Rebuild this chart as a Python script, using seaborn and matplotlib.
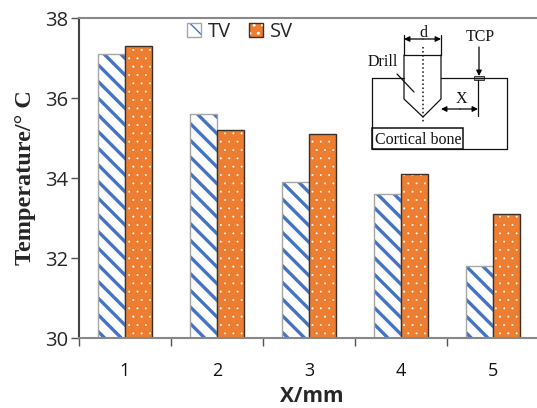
import numpy as np
import pandas as pd
import matplotlib
matplotlib.use("Agg")
import matplotlib.pyplot as plt
from matplotlib.legend_handler import HandlerTuple
from matplotlib.patches import Patch, Rectangle
import seaborn as sns

# data
x_labels = ["1", "2", "3", "4", "5"]
tv = [37.1, 35.6, 33.9, 33.6, 31.8]
sv = [37.3, 35.2, 35.1, 34.1, 33.1]
series = ["TV", "SV"]
y_ticks = [30, 32, 34, 36, 38]

df = pd.DataFrame({
    "x": x_labels * 2,
    "temp": tv + sv,
    "kind": ["TV"] * 5 + ["SV"] * 5,
})
# one column per hatch pass, the other series left empty so the dodge stays
df["tv_only"] = df["temp"].where(df["kind"] == "TV")
df["sv_only"] = df["temp"].where(df["kind"] == "SV")

sns.set_style("ticks")
W, H = 537, 408
fig = plt.figure(figsize=(W / 100, H / 100), dpi=100)
ax = fig.add_axes([79 / W, 1 - 338 / H, 460 / W, 320 / H])

blue = "#4472c4"
orange = "#ed7d31"
tv_edge = "#a6a6a6"
sv_edge = "#3a3028"
pal = {"TV": "white", "SV": orange}
opts = dict(data=df, x="x", hue="kind", hue_order=series, order=x_labels, width=0.58, gap=0,
            palette=pal, saturation=1, legend=False, ax=ax, errorbar=None)

# TV: blue stripes on white, SV: white dots on orange
with plt.rc_context({"hatch.linewidth": 2.4}):
    sns.barplot(y="tv_only", hatch="\\\\", edgecolor=blue, linewidth=0, **opts)
    tv_key = Patch(facecolor="white", edgecolor=blue, hatch="\\\\", linewidth=0)
with plt.rc_context({"hatch.linewidth": 0.2}):
    sns.barplot(y="sv_only", hatch="..", edgecolor="white", linewidth=0, **opts)
    sv_key = Patch(facecolor=orange, edgecolor="white", hatch="..", linewidth=0)

# outlines on top, hatch colour follows the edge so these are separate bars
sns.barplot(y="temp", linewidth=1.0, edgecolor="#555555", **opts)
for c in ax.containers[-2:]:
    for p in c:
        p.set_facecolor("none")
for p in ax.containers[-2]:
    p.set_edgecolor(tv_edge)
for p in ax.containers[-1]:
    p.set_edgecolor(sv_edge)

ax.set_xlim(-0.5, 4.5)
ax.set_ylim(30, 38)
ax.set_yticks(y_ticks)
ax.set_xticks(range(5))
ax.set_xticks(np.arange(-0.5, 4.5, 1), minor=True)
ax.tick_params(axis="x", which="major", length=0, pad=17, labelsize=13, labelcolor="#111111")
ax.tick_params(axis="x", which="minor", length=6, width=1, color="#555555")
ax.tick_params(axis="y", length=6, width=1, color="#555555", labelsize=14.5, pad=2)
for t in ax.get_xticklabels() + ax.get_yticklabels():
    t.set_family("Open Sans")
ax.set_xlabel("X/mm", family="Open Sans", weight="bold", fontsize=15, labelpad=3)
ax.xaxis.set_label_coords((312 - 79) / 460, -(397 - 338) / 320, transform=ax.transAxes)
ax.xaxis.label.set_va("center")
ax.set_ylabel("Temperature/° C", family="Liberation Serif", weight="bold", fontsize=17.5, labelpad=6)

for s in ["top", "bottom"]:
    ax.spines[s].set_visible(True)
    ax.spines[s].set_color("#888888")
    ax.spines[s].set_linewidth(1.5)
ax.spines["left"].set_color("#444444")
ax.spines["left"].set_linewidth(1.5)
ax.spines["right"].set_visible(False)

tv_line = Patch(facecolor="none", edgecolor=tv_edge, linewidth=1)
sv_line = Patch(facecolor="none", edgecolor=sv_edge, linewidth=1)
fig.legend([(tv_key, tv_line), (sv_key, sv_line)], series, ncol=2, frameon=False, loc="center",
           bbox_to_anchor=(240 / W, 1 - 32 / H), prop={"family": "Open Sans", "size": 14.5},
           handler_map={tuple: HandlerTuple(ndivide=1, pad=0)},
           handlelength=0.7, handleheight=0.7, handletextpad=0.35, columnspacing=0.9)

# schematic of the drill set-up, in picture pixels
sk = fig.add_axes([0, 0, 1, 1], facecolor="none")
sk.set_xlim(0, W)
sk.set_ylim(H, 0)
sk.axis("off")

def ln(xs, ys, **kw):
    kw.setdefault("color", "#111111")
    kw.setdefault("lw", 0.9)
    sk.plot(xs, ys, **kw)

def arrow(x0, y0, x1, y1):
    sk.annotate("", xy=(x1, y1), xytext=(x0, y0),
                arrowprops=dict(arrowstyle="-|>", color="black", lw=0.9, shrinkA=0, shrinkB=0,
                                mutation_scale=8))

ln([404, 372, 372, 463], [78, 78, 149, 149])
ln([441, 507, 507, 463], [78, 78, 149, 149])
ln([404, 404, 423, 441, 441], [55, 99, 117, 99, 55])
ln([404, 441], [55, 55])
ln([404, 404], [35, 55])
ln([441, 441], [35, 55])
ln([423, 423], [47, 123], ls=":", lw=1.1)
ln([397, 414], [74, 92])
ln([478, 478], [80, 116])
arrow(423, 39, 404, 39)
arrow(423, 39, 441, 39)
arrow(479, 47, 479, 76)
arrow(460, 109, 441, 109)
arrow(460, 109, 478, 109)
sk.add_patch(Rectangle((474, 76), 10, 4, facecolor="#b3a2c7", edgecolor="#222222", lw=0.6))
sk.add_patch(Rectangle((372, 128), 91, 21, facecolor="white", edgecolor="#111111", lw=1.1))

serif = dict(family="Liberation Serif", color="#111111", fontsize=11.5, ha="center", va="center")
sk.text(423, 33, "d", **serif)
sk.text(480, 37, "TCP", **serif)
sk.text(383, 62, "Drill", **serif)
sk.text(461, 99, "X", **serif)
sk.text(418, 140, "Cortical bone", **serif)

fig.savefig("out.png", dpi=100)
